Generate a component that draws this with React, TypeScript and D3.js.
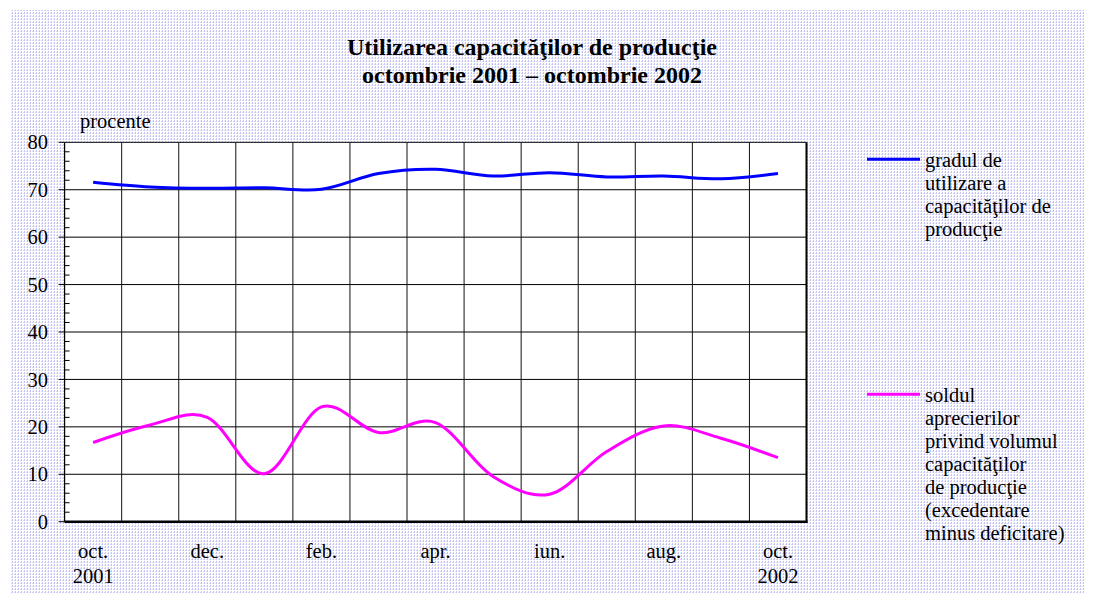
import React from "react";
import * as d3 from "d3";

const months = ["oct.", "nov.", "dec.", "ian.", "feb.", "mar.", "apr.", "mai", "iun.", "iul.", "aug.", "sep.", "oct."];
const labelled = [0, 2, 4, 6, 8, 10, 12];
const yearLabels: Record<number, string> = { 0: "2001", 12: "2002" };
const utilizare = [71.6, 70.6, 70.3, 70.4, 70.1, 73.4, 74.3, 72.9, 73.6, 72.7, 72.9, 72.3, 73.4];
const sold = [16.7, 20.4, 22.0, 10.1, 24.2, 18.8, 20.9, 9.6, 5.8, 14.8, 20.2, 17.6, 13.5];
const yTicks = [0, 10, 20, 30, 40, 50, 60, 70, 80];
const minorTicks = d3.range(0, 81, 2).filter((v) => v % 10 !== 0);
const legend1 = ["gradul de", "utilizare a", "capacităţilor de", "producţie"];
const legend2 = ["soldul", "aprecierilor", "privind volumul", "capacităţilor", "de producţie", "(excedentare", "minus deficitare)"];

const W = 1093, H = 604;
const L = 64.6, R = 806.5, T = 142.3, B = 521.7;
const FONT = "'Liberation Serif', 'Times New Roman', 'DejaVu Serif', serif";
const FS = 20.5;

export default function App() {
  const x = d3.scaleBand<number>().domain(d3.range(months.length)).range([L, R]);
  const y = d3.scaleLinear().domain([0, 80]).range([B, T]);
  const cx = (i: number) => (x(i) as number) + x.bandwidth() / 2;
  const line = d3
    .line<number>()
    .x((_, i) => cx(i))
    .y((d) => y(d))
    .curve(d3.curveCardinal.tension(0));

  return (
    <svg width={W} height={H} style={{ position: "absolute", left: 0, top: 0, fontFamily: FONT }}>
      <defs>
        <pattern id="bg" width="3" height="3" patternUnits="userSpaceOnUse">
          <rect width="3" height="3" fill="#ffffff" />
          <rect x="0" y="0" width="1" height="2" fill="#c4c4f4" />
          <rect x="2" y="1" width="1" height="1" fill="#d8d8f8" />
        </pattern>
      </defs>
      <rect width={W} height={H} fill="#ffffff" />
      <rect x={10} y={10} width={1075} height={583} fill="url(#bg)" />
      <rect x={L} y={T} width={R - L} height={B - T} fill="#ffffff" />

      {/* title */}
      <text x={532} y={55} textAnchor="middle" fontWeight="bold" fontSize={24}>
        Utilizarea capacităţilor de producţie
      </text>
      <text x={532} y={83} textAnchor="middle" fontWeight="bold" fontSize={24}>
        octombrie 2001 – octombrie 2002
      </text>
      <text x={80} y={128} fontSize={FS}>procente</text>

      {/* horizontal gridlines */}
      {yTicks.map((t) => (
        <line key={"h" + t} x1={L} x2={R} y1={y(t)} y2={y(t)} stroke="#000" strokeWidth={1} />
      ))}
      {/* vertical gridlines */}
      {d3.range(1, months.length).map((i) => (
        <line key={"v" + i} x1={x(i) as number} x2={x(i) as number} y1={T} y2={B} stroke="#111" strokeWidth={1} />
      ))}
      {/* axes */}
      <line x1={L} x2={L} y1={T} y2={B} stroke="#000" strokeWidth={1.2} />
      <line x1={R} x2={R} y1={T} y2={B + 1} stroke="#000" strokeWidth={2} />
      <line x1={L} x2={R + 1} y1={B} y2={B} stroke="#000" strokeWidth={2.5} />
      {yTicks.map((t) => (
        <g key={"t" + t}>
          <line x1={L - 6} x2={L} y1={y(t)} y2={y(t)} stroke="#000" />
          <text x={48} y={y(t)} dy="0.35em" textAnchor="end" fontSize={FS}>
            {t}
          </text>
        </g>
      ))}
      {minorTicks.map((t) => (
        <line key={"m" + t} x1={L} x2={L + 5} y1={y(t)} y2={y(t)} stroke="#000" />
      ))}
      {labelled.map((i) => (
        <g key={"x" + i}>
          <text x={cx(i)} y={558} textAnchor="middle" fontSize={FS}>
            {months[i]}
          </text>
          {yearLabels[i] && (
            <text x={cx(i)} y={583} textAnchor="middle" fontSize={FS}>
              {yearLabels[i]}
            </text>
          )}
        </g>
      ))}

      {/* series */}
      <path d={line(utilizare) || ""} fill="none" stroke="#0000ff" strokeWidth={3} />
      <path d={line(sold) || ""} fill="none" stroke="#ff00ff" strokeWidth={3} />

      {/* legend */}
      <line x1={867} x2={920} y1={159.3} y2={159.3} stroke="#0000ff" strokeWidth={3} />
      {legend1.map((s, i) => (
        <text key={"l1" + i} x={925} y={166.7 + i * 23} fontSize={FS}>
          {s}
        </text>
      ))}
      <line x1={867} x2={920} y1={394.3} y2={394.3} stroke="#ff00ff" strokeWidth={3} />
      {legend2.map((s, i) => (
        <text key={"l2" + i} x={925} y={401.7 + i * 23.05} fontSize={FS}>
          {s}
        </text>
      ))}
    </svg>
  );
}
